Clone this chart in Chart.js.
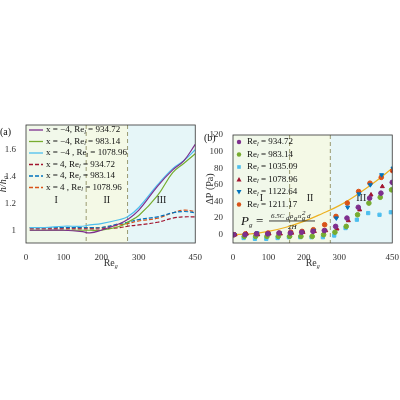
<!DOCTYPE html>
<html><head><meta charset="utf-8">
<script src="https://cdn.jsdelivr.net/npm/chart.js@4"></script>
<style>body{margin:0;width:400px;height:400px;background:#fff;position:relative;overflow:hidden}
canvas{position:absolute}</style></head><body>
<canvas id="ca" style="left:-4px;top:115px;width:207px;height:160px" width="207" height="160"></canvas>
<canvas id="cb" style="left:202px;top:125px;width:198px;height:150px" width="198" height="150"></canvas>
<script>
const reA=[10,50,100,150,170,200,250,270,300,350,390,420,450];
const aPurple=[1.0,1.0,1.0,0.99,0.98,1.0,1.05,1.08,1.15,1.33,1.45,1.52,1.64];
const aGreen=[1.0,1.0,1.0,1.0,1.0,1.0,1.03,1.06,1.11,1.26,1.43,1.5,1.57];
const aCyan=[1.02,1.02,1.03,1.03,1.04,1.05,1.08,1.1,1.17,1.34,1.46,1.52,1.6];
const aDRed=[1.01,1.01,1.01,1.01,1.01,1.01,1.02,1.03,1.04,1.06,1.09,1.1,1.1];
const aDBlue=[1.02,1.02,1.02,1.02,1.02,1.02,1.05,1.06,1.08,1.1,1.13,1.14,1.13];
const aDOrange=[1.02,1.02,1.02,1.02,1.02,1.02,1.04,1.05,1.07,1.09,1.13,1.15,1.14];
const labelsA=['x = −4, Re_l = 934.72','x = −4, Re_l = 983.14','x = −4 , Re_l = 1078.96','x = 4, Re_l = 934.72','x = 4, Re_l = 983.14','x = 4 , Re_l = 1078.96'];
const reB=[0,32,64,96,128,160,192,224,256,288,320,352,384,416,448];
const bPurple=[0,0,1,1,2,2,3,4,5,10,20,33,44,50,63];
const bGreen=[0,-2,-2,-2,-2,-2,-2,-2,0,3,10,24,38,45,54];
const bCyan=[0,-4,-5,-5,-4,-3,-3,-3,-3,-1,8,18,26,24,27];
const bRed=[0,1,0,1,1,2,3,4,5,7,17,30,48,58,77];
const bBlue=[0,0,2,1,2,2,3,5,5,20,33,49,60,72,80];
const bOrange=[0,1,1,2,2,3,4,6,12,22,38,52,62,69,77];
const fitX=[0,50,100,150,200,250,300,350,400,450];
const fitY=[0,1,4,9,16,25,35,48,63,80];
const labelsB=['Re_l = 934.72','Re_l = 983.14','Re_l = 1035.09','Re_l = 1078.96','Re_l = 1122.64','Re_l = 1211.17'];
const SERIF='"Liberation Serif","DejaVu Serif",serif';
Chart.defaults.font.family=SERIF;Chart.defaults.font.size=9;Chart.defaults.color='#333';
function pts(xs,ys,dx){return xs.map((x,i)=>({x:x+(dx||0),y:ys[i]}));}
function subText(ctx,s,x,y){
  const parts=s.split('_');ctx.fillText(parts[0],x,y);let w=ctx.measureText(parts[0]).width;
  if(parts.length>1){const rest=parts[1];const sub=rest[0];const f=ctx.font;ctx.font='italic 6px '+SERIF;ctx.fillText(sub,x+w,y+2);const sw=ctx.measureText(sub).width;ctx.font=f;ctx.fillText(rest.slice(1),x+w+sw,y);}
}
function drawMarker(ctx,d,x,y){ctx.fillStyle=d.backgroundColor;ctx.beginPath();
  if(d.pointStyle==='rect'){ctx.fillRect(x-1.8,y-1.8,3.6,3.6);return;}
  if(d.pointStyle==='triangle'){const s=d.pointRotation?-1:1;ctx.moveTo(x,y-2.5*s);ctx.lineTo(x+2.5,y+2*s);ctx.lineTo(x-2.5,y+2*s);ctx.closePath();ctx.fill();return;}
  ctx.arc(x,y,2.2,0,7);ctx.fill();}
function regionPlugin(b1,b2,regionY,labelsLegend,isLine,yTitle){return{id:'reg',
 beforeDatasetsDraw(c){const{ctx,chartArea:a,scales:{x}}=c;const p1=x.getPixelForValue(b1),p2=x.getPixelForValue(b2);
  ctx.save();ctx.fillStyle='#f1f8ea';ctx.fillRect(a.left,a.top,p1-a.left,a.height);
  ctx.fillStyle='#f4f9e6';ctx.fillRect(p1,a.top,p2-p1,a.height);
  ctx.fillStyle='#e6f6f8';ctx.fillRect(p2,a.top,a.right-p2,a.height);
  ctx.strokeStyle='#999a70';ctx.setLineDash([4,3]);ctx.lineWidth=1;
  [p1,p2].forEach(p=>{ctx.beginPath();ctx.moveTo(p,a.top);ctx.lineTo(p,a.bottom);ctx.stroke();});
  ctx.setLineDash([]);ctx.fillStyle='#222';ctx.font='10px '+SERIF;ctx.textAlign='center';
  const yy=c.scales.y.getPixelForValue(regionY);
  ctx.fillText('I',x.getPixelForValue(b1/2),yy);ctx.fillText('II',(p1+p2)/2,yy);ctx.fillText('III',x.getPixelForValue((b2+450)/2),yy);
  ctx.restore();},
 afterDraw(c){const{ctx,chartArea:a}=c;ctx.save();ctx.strokeStyle='#333';ctx.lineWidth=0.8;ctx.strokeRect(a.left,a.top,a.width,a.height);
  ctx.font='9px '+SERIF;ctx.fillStyle='#111';ctx.textBaseline='middle';ctx.textAlign='left';
  c.data.datasets.forEach((d,i)=>{if(i>=labelsLegend.length)return;const y=a.top+(isLine?5:7)+i*(isLine?11.5:12.5);const x0=a.left+(isLine?3:6);
   if(isLine){ctx.strokeStyle=d.borderColor;ctx.lineWidth=1.3;ctx.setLineDash(d.borderDash||[]);ctx.beginPath();ctx.moveTo(x0,y);ctx.lineTo(x0+14,y);ctx.stroke();ctx.setLineDash([]);ctx.fillStyle='#111';subText(ctx,labelsLegend[i],x0+17,y);}
   else{drawMarker(ctx,d,x0,y);ctx.fillStyle='#111';subText(ctx,labelsLegend[i],x0+8,y);}
  });
  ctx.fillStyle='#333';ctx.font='10px '+SERIF;ctx.textBaseline='alphabetic';
  const cx=(a.left+a.right)/2-7;subText(ctx,'Re_g',cx,a.bottom+23);
  ctx.translate(a.left-20,(a.top+a.bottom)/2);ctx.rotate(-Math.PI/2);ctx.textAlign='center';ctx.font=(isLine?'italic ':'')+'10px '+SERIF;ctx.fillText(yTitle,0,0);
  ctx.restore();}}}
new Chart(document.getElementById('ca'),{type:'line',data:{datasets:[
 lineDs(aPurple,'#7e2f8e'),lineDs(aGreen,'#77ac30'),lineDs(aCyan,'#4dbeee'),
 lineDs(aDRed,'#a2142f',[4,2]),lineDs(aDBlue,'#0072bd',[4,2]),lineDs(aDOrange,'#d95319',[4,2])]},
 options:{responsive:false,animation:false,layout:{padding:{top:10,right:3,left:0,bottom:0}},plugins:{legend:{display:false},tooltip:{enabled:false}},
 scales:{x:{type:'linear',min:0,max:450,grid:{display:false},border:{display:false},ticks:{stepSize:100,padding:1},afterFit(s){s.height=32;}},
 y:{min:0.905,max:1.785,grid:{display:false},border:{display:false},ticks:{padding:2,callback:v=>v===1?'1':v.toFixed(1)},afterBuildTicks(s){s.ticks=[1,1.2,1.4,1.6].map(v=>({value:v}));},afterFit(s){s.width=30;}}}},
 plugins:[regionPlugin(160,270,1.2,labelsA,true,'h/h₀'),{id:'lab',afterDraw(c){c.ctx.save();c.ctx.font='10px '+SERIF;c.ctx.fillStyle='#111';c.ctx.fillText('(a)',4,20);c.ctx.restore();}}]});
function lineDs(data,color,dash){return{type:'line',data:pts(reA,data),borderColor:color,borderWidth:1.2,borderDash:dash,pointRadius:0,tension:0.4,fill:false};}
function sc(data,color,shape,dx,rot){return{type:'scatter',data:pts(reB,data,dx),backgroundColor:color,borderColor:color,pointStyle:shape,pointRadius:2.3,pointRotation:rot||0};}
new Chart(document.getElementById('cb'),{type:'scatter',data:{datasets:[
 sc(bPurple,'#7e2f8e','circle',2),sc(bGreen,'#77ac30','circle',0),sc(bCyan,'#4dbeee','rect',-2),
 sc(bRed,'#a2142f','triangle',6),sc(bBlue,'#0072bd','triangle',4,180),sc(bOrange,'#d95319','circle',3),
 {type:'line',data:pts(fitX,fitY),borderColor:'#edb120',borderWidth:1.2,pointRadius:0,tension:0.4}]},
 options:{responsive:false,animation:false,layout:{padding:{top:10,right:1,left:0,bottom:0}},plugins:{legend:{display:false},tooltip:{enabled:false}},
 scales:{x:{type:'linear',min:0,max:450,grid:{display:false},border:{display:false},ticks:{stepSize:100,padding:1},afterFit(s){s.height=32;}},
  y:{min:-10,max:120,grid:{display:false},border:{display:false},ticks:{stepSize:20,padding:2},afterBuildTicks(s){s.ticks=[0,20,40,60,80,100,120].map(v=>({value:v}));},afterFit(s){s.width=31;}}}},
 plugins:[regionPlugin(160,275,40,labelsB,false,'ΔP (Pa)'),{id:'lab',afterDraw(c){const ctx=c.ctx;ctx.save();ctx.font='10px '+SERIF;ctx.fillStyle='#111';ctx.fillText('(b)',2,16);
  const a=c.chartArea;const x=a.left+8,y=c.scales.y.getPixelForValue(17);ctx.font='italic 13px '+SERIF;ctx.fillText('P',x,y+4);ctx.font='italic 7px '+SERIF;ctx.fillText('g',x+8,y+6);
  ctx.font='13px '+SERIF;ctx.fillText('=',x+15,y+4);ctx.font='italic 7px '+SERIF;ctx.fillText('6.5C',x+30,y-3);ctx.fillText('d',x+45,y-1);ctx.fillText('ρ',x+49,y-3);ctx.fillText('g',x+53,y-1);ctx.fillText('u',x+57,y-3);ctx.fillText('g',x+61,y-1);ctx.fillText('2',x+61,y-6);ctx.fillText('d',x+66,y-3);
  ctx.fillRect(x+28,y,46,0.8);ctx.fillText('2H',x+47,y+8);ctx.restore();}}]});
</script></body></html>
